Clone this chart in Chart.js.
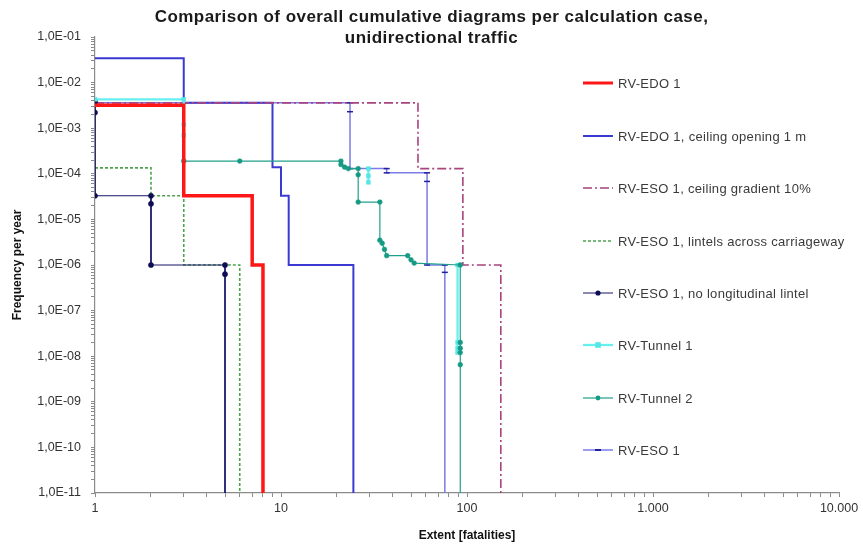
<!DOCTYPE html>
<html><head><meta charset="utf-8">
<script src="https://cdn.jsdelivr.net/npm/chart.js@4.4.0/dist/chart.umd.min.js"></script>
<style>
html,body{margin:0;padding:0;background:#fff;}
#wrap{position:relative;width:863px;height:546px;font-family:"Liberation Sans",Arial,sans-serif;}
#c{position:absolute;left:0;top:0;}
#title{position:absolute;left:0;width:863px;top:6px;text-align:center;font-weight:bold;font-size:17px;letter-spacing:0.45px;line-height:21px;color:#1a1a1a;}
.leg{position:absolute;left:583px;height:16px;margin-top:-8px;display:flex;align-items:center;font-size:13px;letter-spacing:0.3px;color:#3a3a3a;white-space:nowrap;}
.leg svg{margin-right:5px;}
</style></head>
<body>
<div id="wrap">
<canvas id="c" width="863" height="546"></canvas>
<div id="title">Comparison of overall cumulative diagrams per calculation case,<br>unidirectional traffic</div>
<div id="legend"></div>
</div>
<script>
// ---------- data ----------
const seriesNames = [
  "RV-EDO 1",
  "RV-EDO 1, ceiling opening 1 m",
  "RV-ESO 1, ceiling gradient 10%",
  "RV-ESO 1, lintels across carriageway",
  "RV-ESO 1, no longitudinal lintel",
  "RV-Tunnel 1",
  "RV-Tunnel 2",
  "RV-ESO 1"
];
const edo1X = [1, 3, 3, 7, 7, 8, 8];
const edo1Y = [3.2e-3, 3.2e-3, 3.3e-5, 3.3e-5, 1e-6, 1e-6, 1e-11];

const edoOpeningX = [1, 3, 3, 9, 9, 10, 10, 11, 11, 24.5, 24.5];
const edoOpeningY = [3.4e-2, 3.4e-2, 3.6e-3, 3.6e-3, 1.4e-4, 1.4e-4, 3.3e-5, 3.3e-5, 1e-6, 1e-6, 1e-11];

const esoGradientX = [1, 54.5, 54.5, 95, 95, 152, 152];
const esoGradientY = [3.6e-3, 3.6e-3, 1.3e-4, 1.3e-4, 1e-6, 1e-6, 1e-11];

const esoLintelsX = [1, 2, 2, 3, 3, 6, 6];
const esoLintelsY = [1.35e-4, 1.35e-4, 3.3e-5, 3.3e-5, 1e-6, 1e-6, 1e-11];

const esoNoLongX = [1, 1, 1, 2, 2, 2, 5, 5, 5];
const esoNoLongY = [3.8e-3, 2.2e-3, 3.3e-5, 3.3e-5, 2.2e-5, 1e-6, 1e-6, 6.3e-7, 1e-11];

const tunnel1X = [1, 3, 3, 3, 3, null, 29.5, 29.5, 29.5, null, 89, 89, 89, 89];
const tunnel1Y = [4.3e-3, 4.3e-3, 1.2e-3, 7e-4, 1.9e-4, null, 1.3e-4, 9e-5, 6.5e-5, null, 1e-6, 2e-8, 1.5e-8, 1.2e-8];

const tunnel2X = [3, 6, 21, 21, 22, 23, 26, 26, 26, 34, 34, 35, 36, 37, 48, 50, 52, 92, 92, 92, 92, 92, 92];
const tunnel2Y = [1.9e-4, 1.9e-4, 1.9e-4, 1.6e-4, 1.4e-4, 1.3e-4, 1.3e-4, 9.5e-5, 2.4e-5, 2.4e-5, 3.5e-6, 3e-6, 2.2e-6, 1.6e-6, 1.6e-6, 1.3e-6, 1.1e-6, 1e-6, 2e-8, 1.5e-8, 1.2e-8, 6.5e-9, 1e-11];

const eso1X = [1, 23.5, 23.5, 23.5, 37, 37, 61, 61, 61, 76, 76, 76];
const eso1Y = [3.6e-3, 3.6e-3, 2.3e-3, 1.3e-4, 1.3e-4, 1.05e-4, 1.05e-4, 6.8e-5, 1e-6, 1e-6, 6.9e-7, 1e-11];

const xTickLabels = ["1", "10", "100", "1.000", "10.000"];
const yTickLabels = ["1,0E-11","1,0E-10","1,0E-09","1,0E-08","1,0E-07","1,0E-06","1,0E-05","1,0E-04","1,0E-03","1,0E-02","1,0E-01"];

// ---------- helpers ----------
function pts(xs, ys){ return xs.map((x,i)=> (x===null||ys[i]===null) ? {x:null,y:null} : {x:x, y:ys[i]}); }
function markerR(r){ return ctx => { const p = ctx.raw; return (p && p.y !== null && p.y > 1.5e-11) ? r : 0; }; }
function logTicks(minExp, maxExp){
  const t=[];
  for(let e=minExp;e<=maxExp;e++){
    for(let m=1;m<=9;m++){ if(e===maxExp && m>1) break; t.push({value: m*Math.pow(10,e)}); }
  }
  return t;
}
function powIndex(v, minExp){
  const k = Math.round(Math.log10(v));
  if (Math.abs(v/Math.pow(10,k) - 1) < 1e-6) return k - minExp;
  return -1;
}

const styles = [
  {color:'#ff1616', width:3.5, dash:[], marker:null},
  {color:'#3a3ad2', width:2, dash:[], marker:null},
  {color:'#a8447e', width:1.6, dash:[9,3,2,3], marker:null},
  {color:'#4ea24e', width:1.6, dash:[3,2], marker:null},
  {color:'#141468', width:1, dash:[], marker:{style:'circle', r:2.6, fill:'#0d0d55', stroke:'#0d0d55'}},
  {color:'#66f0f0', width:2.3, dash:[], marker:{style:'rect', r:2.8, fill:'#55e6e6', stroke:'#55e6e6'}},
  {color:'#20a08a', width:1.2, dash:[], marker:{style:'circle', r:2.4, fill:'#169a84', stroke:'#169a84'}},
  {color:'#7c7ce8', width:1.5, dash:[], marker:{style:'line', r:3, fill:'#2020a0', stroke:'#2020a0'}}
];
const seriesData = [
  pts(edo1X, edo1Y), pts(edoOpeningX, edoOpeningY), pts(esoGradientX, esoGradientY),
  pts(esoLintelsX, esoLintelsY), pts(esoNoLongX, esoNoLongY), pts(tunnel1X, tunnel1Y),
  pts(tunnel2X, tunnel2Y), pts(eso1X, eso1Y)
];
// Chart.js draws lower "order" on top
const drawOrder = [1, 7, 6, 5, 4, 3, 2, 8];

const datasets = seriesData.map((d,i)=>{
  const s = styles[i];
  return {
    label: seriesNames[i],
    data: d,
    showLine: true,
    spanGaps: false,
    borderColor: s.color,
    borderWidth: s.width,
    borderDash: s.dash,
    borderJoinStyle: 'miter',
    borderCapStyle: 'butt',
    tension: 0,
    fill: false,
    order: drawOrder[i],
    pointStyle: s.marker ? s.marker.style : 'circle',
    pointRadius: s.marker ? markerR(s.marker.r) : 0,
    pointBackgroundColor: s.marker ? s.marker.fill : s.color,
    pointBorderColor: s.marker ? s.marker.stroke : s.color,
    pointBorderWidth: s.marker && s.marker.style==='line' ? 1.5 : 0.5,
    pointHoverRadius: 0
  };
});

const FONT = '"Liberation Sans", Arial, sans-serif';

new Chart(document.getElementById('c'), {
  type: 'scatter',
  data: { datasets },
  options: {
    responsive: false,
    animation: false,
    events: [],
    layout: { padding: { left: 4, right: 24, top: 37, bottom: 3 } },
    plugins: { legend: { display: false }, title: { display: false }, tooltip: { enabled: false } },
    scales: {
      x: {
        type: 'logarithmic',
        min: 1, max: 10000,
        afterBuildTicks: sc => { sc.ticks = logTicks(0, 4); },
        afterFit: sc => { sc.height = 50; },
        border: { color: '#8a8a8a', width: 1.2 },
        grid: { drawOnChartArea: false, drawTicks: true, tickLength: 4, color: '#8a8a8a' },
        ticks: {
          autoSkip: false, maxRotation: 0, padding: 4,
          color: '#333', font: { family: FONT, size: 12.5 },
          callback: v => { const i = powIndex(v, 0); return i >= 0 ? xTickLabels[i] : ''; }
        },
        title: { display: true, text: 'Extent [fatalities]', color: '#111',
                 font: { family: FONT, size: 12, weight: 'bold' }, padding: { top: 6, bottom: 0 } }
      },
      y: {
        type: 'logarithmic',
        min: 1e-11, max: 1e-1,
        afterBuildTicks: sc => { sc.ticks = logTicks(-11, -1); },
        afterFit: sc => { sc.width = 91; },
        border: { color: '#8a8a8a', width: 1.2 },
        grid: { drawOnChartArea: false, drawTicks: true, tickLength: 4, color: '#8a8a8a' },
        ticks: {
          autoSkip: false, padding: 10,
          color: '#333', font: { family: FONT, size: 12.5 },
          callback: v => { const i = powIndex(v, -11); return i >= 0 ? yTickLabels[i] : ''; }
        },
        title: { display: true, text: 'Frequency per year', color: '#111',
                 font: { family: FONT, size: 12, weight: 'bold' }, padding: { top: 6, bottom: 4 } }
      }
    }
  }
});

// ---------- HTML legend ----------
const legendY = [83, 136, 188, 241, 293, 345, 398, 450];
const legendEl = document.getElementById('legend');
seriesNames.forEach((name,i)=>{
  const s = styles[i];
  const dash = s.dash.length ? `stroke-dasharray="${s.dash.join(',')}"` : '';
  let mk = '';
  if (s.marker) {
    if (s.marker.style==='circle') mk = `<circle cx="15" cy="6" r="${s.marker.r}" fill="${s.marker.fill}"/>`;
    else if (s.marker.style==='rect') mk = `<rect x="${15-s.marker.r}" y="${6-s.marker.r}" width="${2*s.marker.r}" height="${2*s.marker.r}" fill="${s.marker.fill}"/>`;
    else mk = `<line x1="12" y1="6" x2="18" y2="6" stroke="${s.marker.stroke}" stroke-width="2"/>`;
  }
  const div = document.createElement('div');
  div.className = 'leg';
  div.style.top = legendY[i] + 'px';
  div.innerHTML = `<svg width="30" height="12"><line x1="0" y1="6" x2="30" y2="6" stroke="${s.color}" stroke-width="${Math.min(s.width,3)}" ${dash}/>${mk}</svg><span>${name}</span>`;
  legendEl.appendChild(div);
});
</script>
</body></html>
